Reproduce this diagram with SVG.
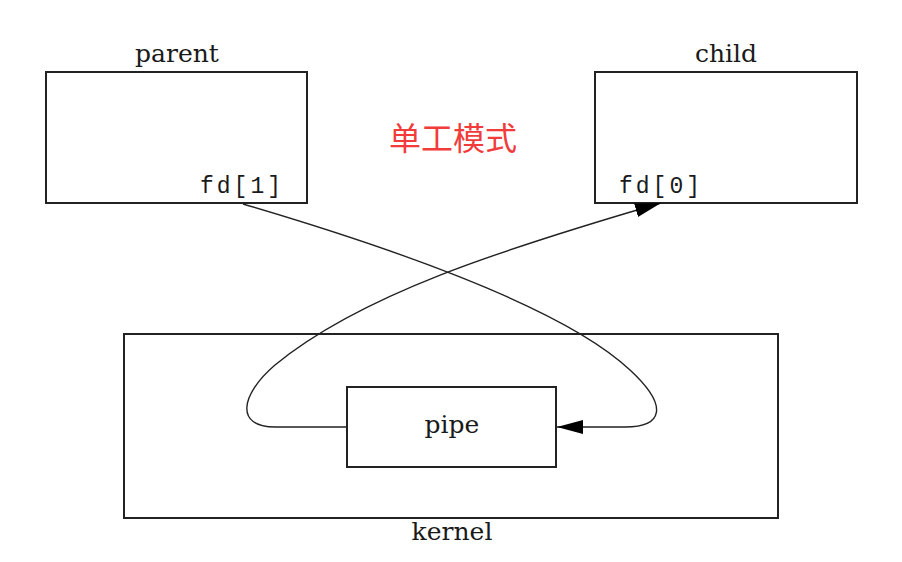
<svg xmlns="http://www.w3.org/2000/svg" width="902" height="562" viewBox="0 0 902 562">
<defs>
<style>
.box{fill:#fff;stroke:#222;stroke-width:2}
.lbl{font-family:"DejaVu Serif","Liberation Serif",serif;font-size:25px;fill:#1a1a1a;text-anchor:middle}
.fd{font-family:"Liberation Mono","DejaVu Sans Mono",monospace;font-size:23px;fill:#1a1a1a;letter-spacing:3px}
.conn{fill:none;stroke:#222;stroke-width:1.4}
.title{font-family:"Noto Sans CJK SC",sans-serif;font-size:32px;fill:#f23b3b}
</style>
<marker id="ah" markerUnits="userSpaceOnUse" markerWidth="28" markerHeight="16" refX="26" refY="7" orient="auto">
<path d="M0,0 L26,7 L0,14 z" fill="#000"/>
</marker>
</defs>
<rect width="902" height="562" fill="#fff"/>
<g id="kernel">
<rect class="box" x="124" y="334" width="654" height="184"/>
<text class="lbl" x="452" y="540">kernel</text>
</g>
<g id="pipe">
<rect class="box" x="347" y="387" width="209" height="80"/>
<text class="lbl" x="452" y="433">pipe</text>
</g>
<g id="parent">
<rect class="box" x="46" y="72" width="261" height="131"/>
<text class="lbl" x="177" y="62">parent</text>
<text class="fd" x="200" y="193">fd[1]</text>
</g>
<g id="child">
<rect class="box" x="595" y="72" width="262" height="131"/>
<text class="lbl" x="726" y="62">child</text>
<text class="fd" x="619" y="193">fd[0]</text>
</g>
<g id="title">
<text class="title" x="389" y="150">单工模式</text>
</g>
<g id="connectors">
<path class="conn" d="M243,204 C440,262 575,318 630,370 C670,407 662,427 625,427 L557,427" marker-end="url(#ah)"/>
<path class="conn" d="M347,427 L275,427 C235,427 240,395 275,365 C360,295 500,250 661,203" marker-end="url(#ah)"/>
</g>
</svg>
